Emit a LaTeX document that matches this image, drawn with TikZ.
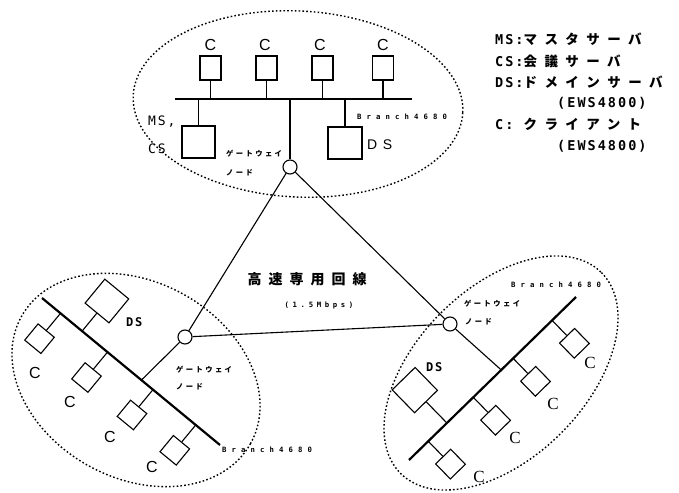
\documentclass[tikz,border=0pt]{standalone}
\usepackage{fontspec}
\setmainfont{Liberation Sans}
\newfontfamily\jpL{Noto Sans CJK JP}[LetterSpace=55]
\newfontfamily\jpM{Noto Sans CJK JP}[LetterSpace=50]
\newfontfamily\jpS{Noto Sans CJK JP}[LetterSpace=33]
\newfontfamily\monoL{DejaVu Sans Mono}[LetterSpace=15]
\newfontfamily\monoS{DejaVu Sans Mono}[LetterSpace=70]
\newfontfamily\monoB{DejaVu Sans Mono}[LetterSpace=50]
\newfontfamily\sansS{Liberation Sans}[LetterSpace=40]
\newfontfamily\serifC{Liberation Serif}
\begin{document}
\begin{tikzpicture}[x=1pt,y=-1pt,
  ell/.style={draw, line width=1.4pt, dash pattern=on 1.6pt off 2.2pt},
  bus/.style={line width=2.2pt},
  wire/.style={line width=1.1pt},
  cbox/.style={draw, line width=1.1pt, rectangle, inner sep=0pt, fill=white},
  gw/.style={draw, circle, line width=1.1pt, fill=white, minimum size=14pt, inner sep=0pt},
  clab/.style={inner sep=0pt, font=\fontsize{16}{16}\selectfont},
  rclab/.style={inner sep=0pt, font=\serifC\fontsize{17}{17}\selectfont},
  gwlab/.style={inner sep=0pt, anchor=west, font=\jpS\bfseries\fontsize{7.3}{7.3}\selectfont},
  brlab/.style={inner sep=0pt, font=\monoS\bfseries\fontsize{7.3}{7.3}\selectfont},
  leg/.style={inner sep=0pt, anchor=west, font=\bfseries\fontsize{13.5}{13.5}\selectfont}
]
\useasboundingbox (0,0) rectangle (679,492);

% ---------- dotted ellipses ----------
\draw[ell, rotate around={-3:(298,104)}] (298,104) ellipse [x radius=165, y radius=93];
\draw[ell, rotate around={-29:(136,380)}] (136,380) ellipse [x radius=131, y radius=98];
\draw[ell, rotate around={45:(501,373)}] (501,373) ellipse [x radius=142, y radius=85];

% ---------- top network ----------
\coordinate (tbL) at (175,99);
\coordinate (tbR) at (412,99);
\draw[bus] (tbL) -- (tbR);
\coordinate (ts1) at (210.5,99);
\coordinate (ts2) at (266.5,99);
\coordinate (ts3) at (322.5,99);
\coordinate (ts4) at (383,99);
\coordinate (tsm) at (198.5,99);
\coordinate (tsd) at (345,99);
\coordinate (tsg) at (290,99);
\node[cbox, minimum width=21pt, minimum height=24pt] (tc1) at (210.5,68) {};
\node[cbox, minimum width=21pt, minimum height=24pt] (tc2) at (266.5,68) {};
\node[cbox, minimum width=21pt, minimum height=24pt] (tc3) at (322.5,68) {};
\node[cbox, minimum width=21pt, minimum height=24pt] (tc4) at (383,68) {};
\node[cbox, minimum width=33pt, minimum height=32pt] (tms) at (198.5,142) {};
\node[cbox, minimum width=34pt, minimum height=32pt] (tds) at (345,143) {};
\node[gw] (TG) at (290,167) {};
\draw[wire] (ts1) -- (tc1);
\draw[wire] (ts2) -- (tc2);
\draw[wire] (ts3) -- (tc3);
\draw[wire] (ts4) -- (tc4);
\draw[wire] (tsm) -- (tms);
\draw[wire] (tsd) -- (tds);
\draw[wire] (tsg) -- (TG);
\node[clab] (tl1) at (210.5,45) {C};
\node[clab] (tl2) at (265,45) {C};
\node[clab] (tl3) at (320,45) {C};
\node[clab] (tl4) at (383,45) {C};
\node[inner sep=0pt, anchor=west, font=\monoL\fontsize{13}{13}\selectfont] (tlms) at (148,122) {MS,};
\node[inner sep=0pt, anchor=west, font=\monoL\fontsize{13}{13}\selectfont] (tlcs) at (148,149) {CS};
\node[inner sep=0pt, anchor=west, font=\sansS\fontsize{14}{14}\selectfont] (tlds) at (367,145) {DS};
\node[brlab, anchor=west] (tlbr) at (357,117) {Branch4680};
\node[gwlab] (tg1) at (226,154) {ゲートウェイ};
\node[gwlab] (tg2) at (226,173) {ノード};

% ---------- lower-left network ----------
\coordinate (la) at (42,298);
\coordinate (lb) at (220,445);
\draw[bus] (la) -- (lb);
\coordinate (ls1) at (60.5,313.3);
\coordinate (ls2) at (107.5,352.1);
\coordinate (ls3) at (153,389.6);
\coordinate (ls4) at (195.8,424.9);
\coordinate (lsd) at (82.1,331.1);
\coordinate (lj) at (141.5,380);
\node[cbox, minimum size=21pt, rotate=-39.5] (lc1) at (39.5,338.7) {};
\node[cbox, minimum size=21pt, rotate=-39.5] (lc2) at (86.5,377.5) {};
\node[cbox, minimum size=21pt, rotate=-39.5] (lc3) at (132,415) {};
\node[cbox, minimum size=21pt, rotate=-39.5] (lc4) at (174.8,450.3) {};
\node[cbox, minimum size=31pt, rotate=-39.5] (lds) at (106.9,301) {};
\node[gw] (LG) at (185,337) {};
\draw[wire] (ls1) -- (lc1);
\draw[wire] (ls2) -- (lc2);
\draw[wire] (ls3) -- (lc3);
\draw[wire] (ls4) -- (lc4);
\draw[wire] (lsd) -- (lds);
\draw[wire] (lj) -- (LG);
\node[clab] (ll1) at (35,373) {C};
\node[clab] (ll2) at (70,402) {C};
\node[clab] (ll3) at (110,437) {C};
\node[clab] (ll4) at (152,467) {C};
\node[inner sep=0pt, anchor=west, font=\monoL\bfseries\fontsize{12}{12}\selectfont] (llds) at (126,322) {DS};
\node[brlab, anchor=west] (llbr) at (222,450) {Branch4680};
\node[gwlab] (lg1) at (176,370) {ゲートウェイ};
\node[gwlab] (lg2) at (176,387) {ノード};

% ---------- lower-right network ----------
\coordinate (ra) at (409,460);
\coordinate (rb) at (576,297);
\draw[bus] (ra) -- (rb);
\coordinate (rs1) at (552.1,320.4);
\coordinate (rs2) at (513.2,358.4);
\coordinate (rs3) at (473.3,397.3);
\coordinate (rs4) at (428.2,441.2);
\coordinate (rsd) at (446.9,423);
\coordinate (rj) at (501.3,370);
\node[cbox, minimum size=21pt, rotate=44.3] (rc1) at (574.4,343.3) {};
\node[cbox, minimum size=21pt, rotate=44.3] (rc2) at (535.5,381.3) {};
\node[cbox, minimum size=21pt, rotate=44.3] (rc3) at (495.6,420.2) {};
\node[cbox, minimum size=21pt, rotate=44.3] (rc4) at (450.5,464.1) {};
\node[cbox, minimum size=32pt, rotate=44.3] (rds) at (414.8,390.1) {};
\node[gw] (RG) at (450,324) {};
\draw[wire] (rs1) -- (rc1);
\draw[wire] (rs2) -- (rc2);
\draw[wire] (rs3) -- (rc3);
\draw[wire] (rs4) -- (rc4);
\draw[wire] (rsd) -- (rds);
\draw[wire] (rj) -- (RG);
\node[rclab] (rl1) at (590,363) {C};
\node[rclab] (rl2) at (553,404) {C};
\node[rclab] (rl3) at (515,438) {C};
\node[rclab] (rl4) at (479,477) {C};
\node[inner sep=0pt, anchor=west, font=\monoL\bfseries\fontsize{12}{12}\selectfont] (rlds) at (426,367) {DS};
\node[brlab] (rlbr) at (556,285) {Branch4680};
\node[gwlab] (rg1) at (464,304) {ゲートウェイ};
\node[gwlab] (rg2) at (465,322) {ノード};

% ---------- trunk lines ----------
\draw[wire] (TG) -- (LG);
\draw[wire] (TG) -- (RG);
\draw[wire] (LG) -- (RG);
\node[inner sep=0pt, font=\jpM\bfseries\fontsize{14}{14}\selectfont] (trunk) at (307,279) {高速専用回線};
\node[inner sep=0pt, font=\monoB\bfseries\fontsize{7.3}{7.3}\selectfont] (speed) at (319,305) {(1.5Mbps)};

% ---------- legend ----------
\node[leg] (lg1x) at (495,39) {{\monoL\bfseries MS:}{\jpL\bfseries マスタサーバ}};
\node[leg] (lg2x) at (495,61) {{\monoL\bfseries CS:}{\jpL\bfseries 会議サーバ}};
\node[leg] (lg3x) at (495,82) {{\monoL\bfseries DS:}{\jpL\bfseries ドメインサーバ}};
\node[leg] (lg4x) at (557,103) {{\monoL\bfseries (EWS4800)}};
\node[leg] (lg5x) at (495,124) {{\monoL\bfseries C:\ }{\jpL\bfseries クライアント}};
\node[leg] (lg6x) at (557,146) {{\monoL\bfseries (EWS4800)}};
\end{tikzpicture}
\end{document}
